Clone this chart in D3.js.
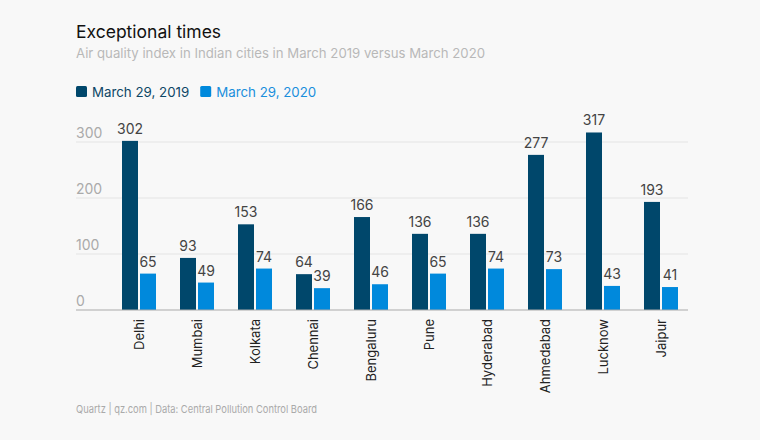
<!DOCTYPE html>
<meta charset="utf-8">
<script src="https://d3js.org/d3.v7.min.js"></script>
<style>
  body { margin: 0; background: #f8f8f8; }
  text { font-family: Inter, "Noto Sans", sans-serif; }
</style>
<div id="chart"></div>
<script>

    // data
    const cities = ["Delhi", "Mumbai", "Kolkata", "Chennai", "Bengaluru", "Pune", "Hyderabad", "Ahmedabad", "Lucknow", "Jaipur"];
    const aqi2019 = [302, 93, 153, 64, 166, 136, 136, 277, 317, 193];
    const aqi2020 = [65, 49, 74, 39, 46, 65, 74, 73, 43, 41];
    const seriesNames = ["March 29, 2019", "March 29, 2020"];
    const yTicks = [0, 100, 200, 300];

    const W = 760, H = 440;
    const colors = ["#00476b", "#0089dc"];
    const textColors = ["#0d4766", "#1a8fdc"];

    const svg = d3.select("#chart").append("svg")
        .attr("width", W)
        .attr("height", H);

    svg.append("rect").attr("width", W).attr("height", H).attr("fill", "#f8f8f8");

    // titles
    svg.append("text").attr("x", 76).attr("y", 38)
        .attr("font-size", 17.5).attr("fill", "#111")
        .text("Exceptional times");
    svg.append("text").attr("x", 76).attr("y", 58)
        .attr("font-size", 13.2).attr("fill", "#b8b8b8")
        .text("Air quality index in Indian cities in March 2019 versus March 2020");

    // legend
    let lx = 76;
    seriesNames.forEach(function (name, i) {
        svg.append("rect").attr("x", lx).attr("y", 86).attr("width", 11).attr("height", 11)
            .attr("rx", 1.5).attr("fill", colors[i]);
        const t = svg.append("text").attr("x", lx + 16).attr("y", 97)
            .attr("font-size", 13.3).attr("fill", textColors[i])
            .text(name);
        lx += 16 + t.node().getComputedTextLength() + 11;
    });

    // scales
    const x = d3.scaleBand().domain(cities).range([110, 690]);
    const y = d3.scaleLinear().domain([0, 300]).range([310, 142]);

    // grid + y labels
    svg.append("g").selectAll("line")
        .data(yTicks.filter(d => d > 0))
        .join("line")
        .attr("x1", 76).attr("x2", 688)
        .attr("y1", d => y(d)).attr("y2", d => y(d))
        .attr("stroke", "#e4e4e4");

    svg.append("g").selectAll("text")
        .data(yTicks)
        .join("text")
        .attr("x", 76).attr("y", d => y(d) - 4)
        .attr("font-size", 14).attr("fill", "#aaa")
        .text(d => d);

    // bars
    const bw = 16, gap = 2;
    const series = [aqi2019, aqi2020];
    series.forEach(function (vals, s) {
        const off = s === 0 ? -bw - gap / 2 : gap / 2;
        const g = svg.append("g");
        g.selectAll("rect")
            .data(vals)
            .join("rect")
            .attr("x", (d, i) => x(cities[i]) + x.bandwidth() / 2 + off)
            .attr("y", d => y(d))
            .attr("width", bw)
            .attr("height", d => y(0) - y(d))
            .attr("fill", colors[s]);
        g.selectAll("text")
            .data(vals)
            .join("text")
            .attr("x", (d, i) => x(cities[i]) + x.bandwidth() / 2 + off + bw / 2)
            .attr("y", d => y(d) - 7)
            .attr("text-anchor", "middle")
            .attr("font-size", 14).attr("fill", "#444")
            .text(d => d);
    });

    // baseline
    svg.append("line").attr("x1", 76).attr("x2", 688)
        .attr("y1", y(0)).attr("y2", y(0))
        .attr("stroke", "#aaa").attr("stroke-width", 1.2);

    // x labels
    svg.append("g").selectAll("text")
        .data(cities)
        .join("text")
        .attr("transform", d => `translate(${x(d) + x.bandwidth() / 2 + 5}, 319) rotate(-90)`)
        .attr("text-anchor", "end")
        .attr("font-size", 13).attr("fill", "#222")
        .text(d => d);

    // footer
    svg.append("text").attr("x", 76).attr("y", 413)
        .attr("font-size", 11).attr("fill", "#aaa")
        .attr("textLength", 241).attr("lengthAdjust", "spacingAndGlyphs")
        .text("Quartz | qz.com | Data: Central Pollution Control Board");

</script>
